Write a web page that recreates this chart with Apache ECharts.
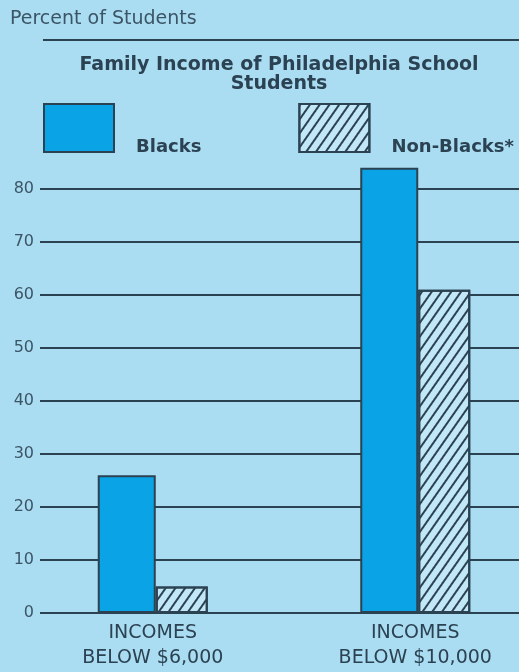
<!DOCTYPE html>
<html><head><meta charset="utf-8">
<script src="https://cdn.jsdelivr.net/npm/echarts@6/dist/echarts.min.js"></script>
<style>html,body{margin:0;padding:0;background:#a9dcf2}#c{width:519px;height:672px}</style>
</head><body><div id="c"></div>
<script>
const categories = ['INCOMES\nBELOW $6,000', 'INCOMES\nBELOW $10,000'];
const seriesNames = ['Blacks', 'Non-Blacks*'];
const blacks = [26, 84];
const nonBlacks = [5, 61];
const yMin = 0, yMax = 80, yStep = 10;

const chart = echarts.init(document.getElementById('c'));
const ink = '#2b4252';
const font = 'DejaVu Sans';
const option = {
  backgroundColor: '#abddf2',
  animation: false,
  textStyle: { fontFamily: font },
  title: [
    { text: 'Percent of Students', left: 10, top: 10, padding: 0,
      textStyle: { fontFamily: font, fontSize: 19, fontWeight: 'normal', color: '#3b5566' } },
    { text: 'Family Income of Philadelphia School\nStudents', left: 279, top: 56, padding: 0, textAlign: 'center',
      textStyle: { fontFamily: font, fontSize: 19, fontWeight: 'bold', color: ink, lineHeight: 19 } }
  ],
  graphic: [
    { type: 'line', shape: { x1: 43, y1: 40, x2: 519, y2: 40 }, style: { stroke: ink, lineWidth: 2 } }
  ],
  legend: {
    left: 43, top: 90, padding: 0, itemWidth: 70, itemHeight: 48, itemGap: 97, icon: 'rect',
    data: seriesNames,
    formatter: '\n{name}',
    textStyle: { fontFamily: font, fontSize: 18, fontWeight: 'bold', color: ink, lineHeight: 38, padding: [0, 0, 0, 17] }
  },
  grid: [
    { left: 40, right: 0, top: 189, bottom: 59, outerBoundsMode: 'none', containLabel: false },
    { left: 21.5, width: 525, top: 189, bottom: 59, outerBoundsMode: 'none', containLabel: false }
  ],
  xAxis: [
    { gridIndex: 0, type: 'category', data: [''], show: false },
    { gridIndex: 1, type: 'category', data: categories,
      axisLine: { show: false }, axisTick: { show: false },
      axisLabel: { interval: 0, margin: 8, fontFamily: font, fontSize: 19, lineHeight: 25, color: ink } }
  ],
  yAxis: [
    { gridIndex: 0, type: 'value', min: yMin, max: yMax, interval: yStep,
      axisLine: { show: false }, axisTick: { show: false },
      axisLabel: { margin: 6, fontFamily: font, fontSize: 16, color: '#3b5566' },
      splitLine: { lineStyle: { color: ink, width: 2 } } },
    { gridIndex: 1, type: 'value', min: yMin, max: yMax, interval: yStep, show: false, splitLine: { show: false } }
  ],
  series: [
    { name: seriesNames[0], type: 'bar', xAxisIndex: 1, yAxisIndex: 1, data: blacks,
      barWidth: 58, barGap: '0%', clip: false,
      itemStyle: { color: '#0aa3e6', borderColor: ink, borderWidth: 2 } },
    { name: seriesNames[1], type: 'bar', xAxisIndex: 1, yAxisIndex: 1, data: nonBlacks,
      barWidth: 52, barGap: '0%', clip: false,
      itemStyle: { color: '#c2e8f8', borderColor: ink, borderWidth: 2,
        decal: { symbol: 'rect', symbolSize: 1, dashArrayX: [[1, 0]], dashArrayY: [1.5, 5.3],
          rotation: -55 * Math.PI / 180, color: ink } } }
  ]
};
chart.setOption(option);
</script></body></html>
